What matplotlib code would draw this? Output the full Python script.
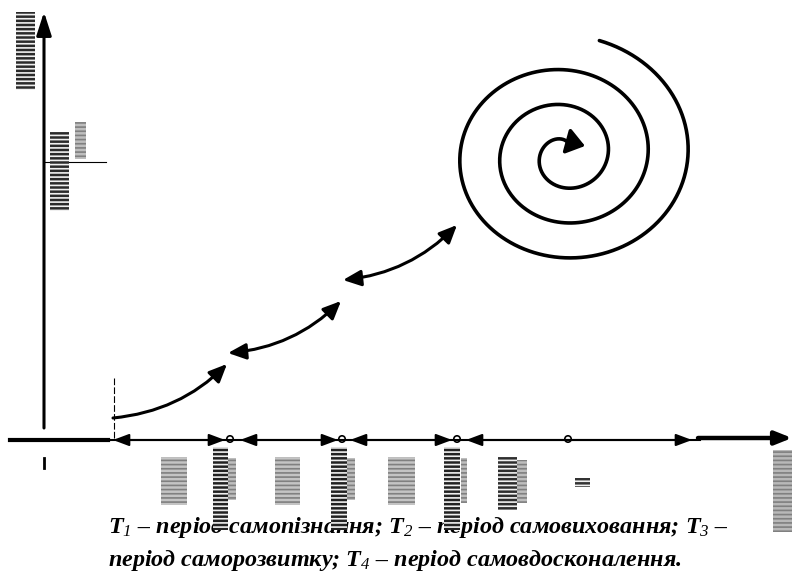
import numpy as np
import matplotlib.pyplot as plt
from matplotlib.patches import FancyArrowPatch, Rectangle, Circle

# --- diagram geometry (pixel coordinates, y grows downward) ---
y_axis_x = 44
y_axis_top, y_axis_bottom = 12, 428
x_axis_y = 440

# period segments on the time axis: (start, end)
period_starts = [113, 240, 350, 466]
period_ends = [225, 338, 452, 692]
period_marks = [230, 342, 457, 568]

# curved growth arrows: (x0, y0, x1, y1, both_heads)
curve_x0 = [113, 228, 343]
curve_y0 = [418, 353, 280]
curve_x1 = [227, 341, 457]
curve_y1 = [364, 301, 225]
curve_both = [False, True, True]

# spiral parameters
spiral_cx, spiral_cy = 564, 155
spiral_rx0, spiral_ry0 = 124, 111.5
spiral_drx, spiral_dry = 20, 17.5   # shrink per half turn
spiral_t0, spiral_t1 = -1.3, 5.55 * np.pi
spiral_tip = (585, 146)

# scanned (unreadable) glyph blocks: x, y, w, h, shade
block_x = [16, 50, 75, 161, 213, 228, 275, 331, 347, 388, 444, 461, 498, 517, 575, 773]
block_y = [12, 132, 122, 457, 447, 458, 457, 447, 458, 457, 447, 458, 457, 460, 478, 450]
block_w = [19, 19, 11, 26, 15, 8, 25, 16, 8, 27, 16, 6, 19, 10, 15, 19]
block_h = [78, 79, 37, 48, 83, 42, 48, 83, 42, 48, 83, 45, 53, 43, 9, 82]
block_shade = ['#2a2a2a', '#2a2a2a', '#bdbdbd', '#c4c4c4', '#222222', '#bdbdbd',
               '#c4c4c4', '#222222', '#bdbdbd', '#c4c4c4', '#222222', '#bdbdbd',
               '#2e2e2e', '#bdbdbd', '#333333', '#b8b8b8']

caption_1 = r'$T_1$ – період самопізнання; $T_2$ – період самовиховання; $T_3$ –'
caption_2 = r'період саморозвитку; $T_4$ – період самовдосконалення.'

plt.rcParams['mathtext.fontset'] = 'custom'
plt.rcParams['mathtext.it'] = 'Liberation Serif:italic:bold'
plt.rcParams['mathtext.rm'] = 'Liberation Serif:italic'
plt.rcParams['hatch.linewidth'] = 1.2

fig = plt.figure(figsize=(7.92, 5.72), dpi=100)
ax = fig.add_axes([0, 0, 1, 1])
ax.set_xlim(0, 792)
ax.set_ylim(572, 0)
ax.axis('off')

# vertical axis
ax.annotate('', xy=(y_axis_x, y_axis_top), xytext=(y_axis_x, y_axis_bottom),
            arrowprops=dict(arrowstyle='-|>,head_length=1.4,head_width=0.45',
                            lw=2.2, color='black', shrinkA=0, shrinkB=0))
ax.plot([y_axis_x, 106], [162, 162], color='black', lw=0.8)
ax.plot([y_axis_x, y_axis_x], [458, 468], color='black', lw=2)

# horizontal axis
ax.plot([10, 108], [x_axis_y, x_axis_y], color='black', lw=3)
ax.plot([108, 700], [x_axis_y, x_axis_y], color='black', lw=1.5)
ax.annotate('', xy=(792, x_axis_y - 2), xytext=(698, x_axis_y - 2),
            arrowprops=dict(arrowstyle='-|>,head_length=1.0,head_width=0.4',
                            lw=3.2, color='black', shrinkA=0, shrinkB=0))
ax.plot([114, 114], [378, 440], color='black', lw=0.8, ls=(0, (6, 2)))

for s, e in zip(period_starts, period_ends):
    ax.add_patch(FancyArrowPatch((s, x_axis_y), (e, x_axis_y),
                                 arrowstyle='<|-|>,head_length=0.8,head_width=0.3',
                                 mutation_scale=12, lw=1.5, color='black',
                                 shrinkA=0, shrinkB=0))
for m in period_marks:
    ax.add_patch(Circle((m, x_axis_y - 1), 3.2, fill=False, lw=1.2, color='black'))

# curved growth arrows
for x0, y0, x1, y1, both in zip(curve_x0, curve_y0, curve_x1, curve_y1, curve_both):
    style = '<|-|>' if both else '-|>'
    ax.add_patch(FancyArrowPatch((x0, y0), (x1, y1),
                                 connectionstyle='arc3,rad=0.18',
                                 arrowstyle=style + ',head_length=0.9,head_width=0.4',
                                 mutation_scale=12, lw=2.2, color='black',
                                 shrinkA=0, shrinkB=0))

# spiral
t = np.linspace(spiral_t0, spiral_t1, 800)
rx = spiral_rx0 - spiral_drx * t / np.pi
ry = spiral_ry0 - spiral_dry * t / np.pi
sx = spiral_cx + rx * np.cos(t)
sy = spiral_cy + ry * np.sin(t)
ax.plot(sx, sy, color='black', lw=2.6, solid_capstyle='round')
ax.annotate('', xy=spiral_tip, xytext=(sx[-1], sy[-1]),
            arrowprops=dict(arrowstyle='-|>,head_length=0.9,head_width=0.65',
                            mutation_scale=12, lw=2.6, color='black',
                            shrinkA=0, shrinkB=0))

# caption
ax.text(108, 533, caption_1, fontsize=17.4, family='Liberation Serif',
        style='italic', weight='bold', va='baseline', ha='left')
ax.text(108, 566, caption_2, fontsize=17.4, family='Liberation Serif',
        style='italic', weight='bold', va='baseline', ha='left')

# unreadable scanned glyph blocks
for x, y, w, h, c in zip(block_x, block_y, block_w, block_h, block_shade):
    hatch_col = '#f0f0f0' if c < '#800000' else '#808080'
    ax.add_patch(Rectangle((x, y), w, h, facecolor=c, edgecolor=hatch_col,
                           lw=0, hatch='----', zorder=5))

fig.savefig('out.png', dpi=100)
